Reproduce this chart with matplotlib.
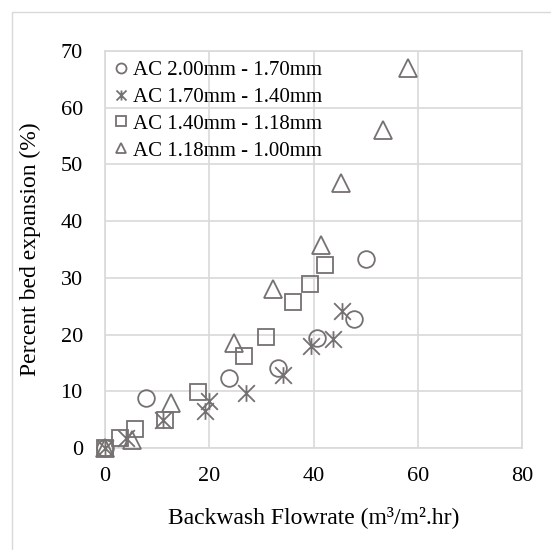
import matplotlib
matplotlib.use("Agg")
import matplotlib.pyplot as plt
from matplotlib.path import Path
from matplotlib.patches import Rectangle

# ---- data ----
series_names = ["AC 2.00mm - 1.70mm", "AC 1.70mm - 1.40mm",
                "AC 1.40mm - 1.18mm", "AC 1.18mm - 1.00mm"]

x_200_170 = [0, 7.8, 23.7, 33.1, 40.6, 47.8, 50.0]
y_200_170 = [0, 8.9, 12.3, 14.1, 19.4, 22.8, 33.3]

x_170_140 = [0, 4.0, 11.2, 19.1, 20.0, 27.1, 34.2, 39.6, 43.7, 45.5]
y_170_140 = [0, 1.8, 4.9, 6.5, 8.2, 9.7, 12.9, 17.9, 19.3, 24.2]

x_140_118 = [0, 2.9, 5.8, 11.5, 17.8, 26.6, 30.9, 36.1, 39.3, 42.2]
y_140_118 = [0, 1.8, 3.3, 4.9, 9.8, 16.2, 19.5, 25.8, 29.0, 32.3]

x_118_100 = [0, 5.1, 12.7, 24.7, 32.2, 41.5, 45.2, 53.3, 58.2]
y_118_100 = [0, 1.4, 7.9, 18.6, 28.0, 35.8, 46.7, 56.1, 67.0]

x_ticks = [0, 20, 40, 60, 80]
y_ticks = [0, 10, 20, 30, 40, 50, 60, 70]

x_label = "Backwash Flowrate (m\u00b3/m\u00b2.hr)"
y_label = "Percent bed expansion (%)"

# ---- style ----
plt.rcParams['font.family'] = ['Liberation Serif', 'DejaVu Serif']
grid_color = "#d9d9d9"
mark_color = "#767171"

star = Path([(-1, -1), (1, 1), (-1, 1), (1, -1), (0, -1), (0, 1)],
            [Path.MOVETO, Path.LINETO, Path.MOVETO, Path.LINETO,
             Path.MOVETO, Path.LINETO])

W, H = 551, 550
fig = plt.figure(figsize=(W / 100, H / 100), dpi=100)
fig.patch.set_facecolor("white")

# outer chart border (left/top visible)
fig.patches.append(Rectangle((12 / W, -0.2), 1.5, 1.2 - 12 / H,
                             transform=fig.transFigure, fill=False,
                             edgecolor=grid_color, linewidth=1.0))

left, right, top, bottom = 105 / W, 522 / W, 51 / H, 448 / H
ax = fig.add_axes([left, 1 - bottom, right - left, bottom - top])

markers = ['o', star, 's', '^']
sizes = [12, 12, 12, 12.5]
data = [(x_200_170, y_200_170), (x_170_140, y_170_140),
        (x_140_118, y_140_118), (x_118_100, y_118_100)]

handles = []
for (xs, ys), mk, ms, name in zip(data, markers, sizes, series_names):
    h, = ax.plot(xs, ys, linestyle='none', marker=mk, markersize=ms,
                 markerfacecolor='none', markeredgecolor=mark_color,
                 markeredgewidth=1.3, label=name, zorder=3, clip_on=False)
    handles.append(h)

ax.set_xlim(0, 80)
ax.set_ylim(0, 70)
ax.set_xticks(x_ticks)
ax.set_yticks(y_ticks)
ax.tick_params(length=0, labelsize=16, colors='black')
ax.tick_params(axis='y', pad=16)
ax.tick_params(axis='x', pad=14)
ax.grid(True, color=grid_color, linewidth=1.2, zorder=0)
ax.set_axisbelow(True)
for s in ax.spines.values():
    s.set_color(grid_color)
    s.set_linewidth(1.2)

ax.set_xlabel(x_label, fontsize=17, labelpad=14)
ax.set_ylabel(y_label, fontsize=17, labelpad=14)

leg = ax.legend(handles=handles, loc='upper left', bbox_to_anchor=(0.0, 1.0),
                frameon=False, fontsize=15, markerscale=0.6,
                handlelength=0.6, handletextpad=0.3, borderaxespad=0.25,
                labelspacing=0.35, borderpad=0.2)

fig.savefig("out.png", dpi=100)
